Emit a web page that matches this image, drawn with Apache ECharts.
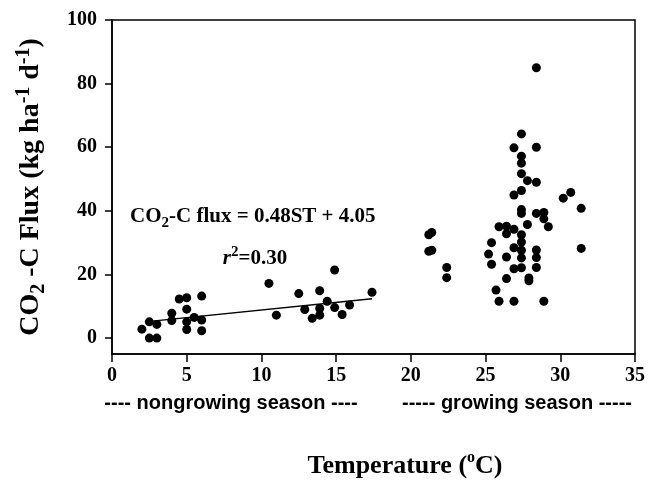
<!DOCTYPE html>
<html><head><meta charset="utf-8">
<script src="https://cdn.jsdelivr.net/npm/echarts@6/dist/echarts.min.js"></script>
<style>html,body{margin:0;padding:0;background:#fff}#c{width:648px;height:486px}</style>
</head><body><div id="c"></div>
<script>
// Non-growing season points [temperature, flux]
const nongrowing = [
  [2.0,2.8],[2.5,5.1],[2.5,0],[3.0,4.3],[3.0,0],[4.0,7.8],[4.0,5.5],[4.5,12.3],
  [5.0,12.7],[5.0,9.1],[5.0,5.1],[5.0,2.7],[5.5,6.5],[6.0,13.2],[6.0,5.7],[6.0,2.3],
  [10.5,17.2],[11.0,7.2],[12.5,14.0],[12.9,9.0],[13.4,6.2],[13.9,14.9],[13.9,9.3],[13.9,7.2],
  [14.4,11.6],[14.9,21.4],[14.9,9.6],[15.4,7.4],[15.9,10.4],[17.4,14.4]
];
// Growing season points [temperature, flux]
const growing = [
  [21.2,32.5],[21.4,33.2],[21.2,27.3],[21.4,27.6],[22.4,22.2],[22.4,19.0],
  [25.2,26.4],[25.4,30.0],[25.4,23.2],[25.7,15.1],[25.9,11.6],[25.9,35.0],
  [26.4,35.2],[26.4,32.8],[26.4,25.5],[26.4,18.7],
  [26.9,34.2],[26.9,28.4],[26.9,21.8],[26.9,11.6],[26.9,45.0],[26.9,59.8],
  [27.4,64.2],[27.4,57.2],[27.4,55.0],[27.4,51.7],[27.4,46.4],[27.4,40.4],[27.4,39.2],
  [27.4,32.5],[27.4,30.2],[27.4,27.6],[27.4,25.2],[27.4,22.1],
  [27.8,49.5],[27.8,35.7],[27.9,18.9],[27.9,18.0],
  [28.4,85.0],[28.4,60.0],[28.4,49.0],[28.4,39.2],[28.4,27.7],[28.4,25.3],[28.4,22.2],
  [28.9,39.5],[28.9,37.5],[28.9,11.6],[29.2,35.0],
  [30.2,44.0],[30.7,45.8],[31.4,40.8],[31.4,28.2]
];
// Regression line endpoints (nongrowing season)
const fitLine = [[2.2,5.1],[17.4,12.4]];
const xTicks = [0,5,10,15,20,25,30,35];
const yTicks = [0,20,40,60,80,100];

const serif = '"Liberation Serif", "Times New Roman", serif';
const sans = '"Liberation Sans", Arial, sans-serif';

const chart = echarts.init(document.getElementById('c'), null, {renderer:'canvas'});
chart.setOption({
  animation: false,
  backgroundColor: '#fff',
  grid: {left:112, right:11, top:20, bottom:132, show:true, borderColor:'#000', borderWidth:1.5, backgroundColor:'transparent'},
  xAxis: {
    type:'value', min:0, max:35, interval:5,
    axisLine:{show:true, onZero:false, lineStyle:{color:'#000', width:1.5}},
    axisTick:{show:true, inside:false, length:8, lineStyle:{color:'#000', width:1.5}, customValues: xTicks},
    axisLabel:{color:'#000', fontFamily:serif, fontWeight:'bold', fontSize:20, margin:12, customValues: xTicks},
    splitLine:{show:false}
  },
  yAxis: {
    type:'value', min:-5, max:100,
    axisLine:{show:true, onZero:false, lineStyle:{color:'#000', width:1.5}},
    axisTick:{show:true, inside:false, length:7, lineStyle:{color:'#000', width:1.5}, customValues: yTicks},
    axisLabel:{color:'#000', fontFamily:serif, fontWeight:'bold', fontSize:20, margin:15, customValues: yTicks},
    splitLine:{show:false}
  },
  series: [
    {type:'scatter', data: nongrowing, symbol:'circle', symbolSize:9, itemStyle:{color:'#000', opacity:1}},
    {type:'scatter', data: growing, symbol:'circle', symbolSize:9, itemStyle:{color:'#000', opacity:1}},
    {type:'line', data: fitLine, symbol:'none', lineStyle:{color:'#000', width:1.5}, z:1}
  ],
  graphic: [
    {type:'text', x:31, y:187, rotation:Math.PI/2,
     style:{text:'{a|CO}{s|2}{a| -C Flux (kg ha}{p|-1}{a| d}{p|-1}{a|)}', align:'center', verticalAlign:'middle',
       rich:{a:{fontFamily:serif, fontWeight:'bold', fontSize:28, fill:'#000', lineHeight:35, verticalAlign:'middle'},
             s:{fontFamily:serif, fontWeight:'bold', fontSize:20, fill:'#000', lineHeight:35, verticalAlign:'bottom'},
             p:{fontFamily:serif, fontWeight:'bold', fontSize:20, fill:'#000', lineHeight:35, verticalAlign:'top'}}}},
    {type:'text', x:130, y:217,
     style:{text:'{a|CO}{s|2}{a|-C flux = 0.48ST + 4.05}', align:'left', verticalAlign:'middle',
       rich:{a:{fontFamily:serif, fontWeight:'bold', fontSize:21, fill:'#000', lineHeight:28, verticalAlign:'middle'},
             s:{fontFamily:serif, fontWeight:'bold', fontSize:15, fill:'#000', lineHeight:28, verticalAlign:'bottom'}}}},
    {type:'text', x:255, y:259,
     style:{text:'{i|r}{p|2}{a|=0.30}', align:'center', verticalAlign:'middle',
       rich:{a:{fontFamily:serif, fontWeight:'bold', fontSize:21, fill:'#000', lineHeight:28, verticalAlign:'middle'},
             i:{fontFamily:serif, fontWeight:'bold', fontStyle:'italic', fontSize:21, fill:'#000', lineHeight:28, verticalAlign:'middle'},
             p:{fontFamily:serif, fontWeight:'bold', fontSize:15, fill:'#000', lineHeight:28, verticalAlign:'top'}}}},
    {type:'text', x:231, y:403,
     style:{text:'---- nongrowing season ----', align:'center', verticalAlign:'middle',
       fontFamily:sans, fontWeight:'bold', fontSize:20, fill:'#000'}},
    {type:'text', x:517, y:403,
     style:{text:'----- growing season -----', align:'center', verticalAlign:'middle',
       fontFamily:sans, fontWeight:'bold', fontSize:20, fill:'#000'}},
    {type:'text', x:405, y:466,
     style:{text:'{a|Temperature (}{p|o}{a|C)}', align:'center', verticalAlign:'middle',
       rich:{a:{fontFamily:serif, fontWeight:'bold', fontSize:26, fill:'#000', lineHeight:32, verticalAlign:'middle'},
             p:{fontFamily:serif, fontWeight:'bold', fontSize:16, fill:'#000', lineHeight:32, verticalAlign:'top'}}}}
  ]
});
</script></body></html>
